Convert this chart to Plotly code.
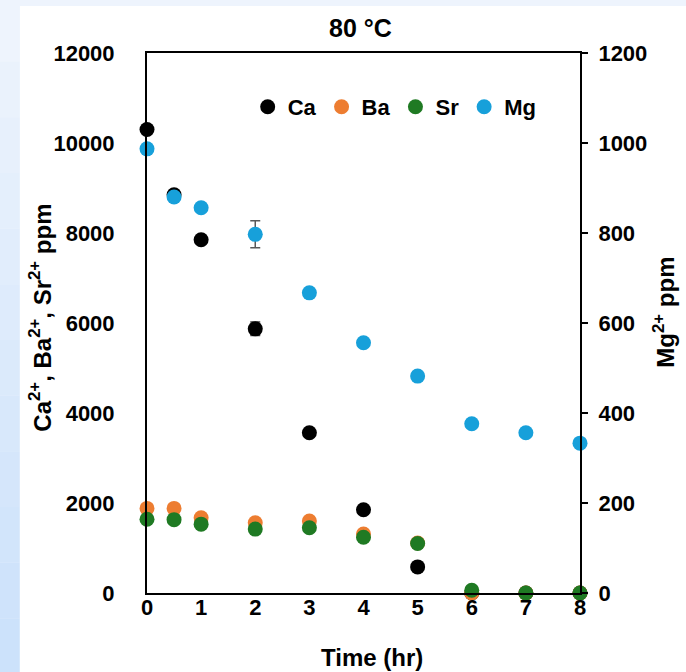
import plotly.graph_objects as go

# time points (hr)
time_hr = [0, 0.5, 1, 2, 3, 4, 5, 6, 7, 8]

# concentrations (ppm)
ca_ppm = [10300, 8850, 7850, 5870, 3560, 1850, 580, 0, 0, 0]
ba_ppm = [1880, 1880, 1670, 1560, 1600, 1310, 1110, 0, 0, 0]
sr_ppm = [1640, 1630, 1530, 1420, 1450, 1240, 1100, 60, 0, 0]
mg_ppm = [987, 880, 856, 797, 667, 556, 482, 376, 356, 333]

ca_err = [0, 60, 0, 150, 0, 0, 0, 0, 0, 0]
mg_err = [0, 0, 0, 30, 0, 0, 0, 0, 0, 0]

FONT = "Liberation Sans, Arial, sans-serif"
BOLD = dict(family=FONT, size=22, color="black", weight="bold")
BOLD_T = dict(family=FONT, size=24, color="black", weight="bold")

fig = go.Figure()

fig.add_trace(go.Scatter(
    x=time_hr, y=ca_ppm, mode="markers", name="Ca",
    marker=dict(color="black", size=15),
    error_y=dict(type="data", array=ca_err, color="#404040", thickness=1.5, width=5),
    cliponaxis=False,
))
fig.add_trace(go.Scatter(
    x=time_hr, y=ba_ppm, mode="markers", name="Ba",
    marker=dict(color="#ED7D31", size=15), cliponaxis=False,
))
fig.add_trace(go.Scatter(
    x=time_hr, y=sr_ppm, mode="markers", name="Sr",
    marker=dict(color="#1F7A23", size=15), cliponaxis=False,
))
fig.add_trace(go.Scatter(
    x=time_hr, y=mg_ppm, mode="markers", name="Mg", yaxis="y2",
    marker=dict(color="#17A0DA", size=15),
    error_y=dict(type="data", array=mg_err, color="#595959", thickness=1.5, width=5),
    cliponaxis=False,
))

# page background: white card over a pale blue frame
shapes = [dict(type="rect", xref="paper", yref="paper",
               x0=-0.294, x1=1.25, y0=-0.15, y1=1.087,
               fillcolor="white", line_width=0, layer="below")]
# left strip gets bluer towards the bottom
n = 12
for i in range(n):
    t = i / (n - 1)
    r = int(0xEE + (0xCC - 0xEE) * t)
    g = int(0xF4 + (0xE2 - 0xF4) * t)
    b = int(0xFD + (0xFB - 0xFD) * t)
    y1 = 1.087 - (1.087 + 0.15) * i / n
    y0 = 1.087 - (1.087 + 0.15) * (i + 1) / n
    shapes.append(dict(type="rect", xref="paper", yref="paper",
                       x0=-0.34, x1=-0.294, y0=y0, y1=y1,
                       fillcolor=f"rgb({r},{g},{b})", line_width=0, layer="below"))

annotations = [
    dict(text="80 °C", x=0.494, y=1.046, xref="paper", yref="paper",
         xanchor="center", yanchor="middle", showarrow=False,
         font=dict(family=FONT, size=25, color="black", weight="bold")),
    dict(text="Time (hr)", x=0.52, y=-0.12, xref="paper", yref="paper",
         xanchor="center", yanchor="middle", showarrow=False, font=BOLD_T),
    dict(text="Ca<sup>2+</sup>, Ba<sup>2+</sup>, Sr<sup>2+</sup> ppm",
         x=-0.247, y=0.51, xref="paper", yref="paper", textangle=-90,
         xanchor="center", yanchor="middle", showarrow=False, font=BOLD_T),
    dict(text="Mg<sup>2+</sup> ppm", x=1.195, y=0.52, xref="paper", yref="paper",
         textangle=-90, xanchor="center", yanchor="middle", showarrow=False, font=BOLD_T),
]

fig.update_layout(
    width=686, height=672,
    margin=dict(l=147, r=106, t=53, b=79),
    paper_bgcolor="#EEF4FD",
    plot_bgcolor="white",
    showlegend=True,
    legend=dict(orientation="h", x=0.572, y=0.9, xanchor="center", yanchor="middle",
                font=BOLD, bgcolor="rgba(0,0,0,0)", itemwidth=30, tracegroupgap=0),
    xaxis=dict(range=[0, 8], tickvals=list(range(9)), showgrid=False, zeroline=False,
               showline=True, linecolor="black", linewidth=2, mirror=True,
               ticks="", tickfont=BOLD, ticklabelstandoff=-6),
    yaxis=dict(range=[0, 12000], dtick=2000, tickformat="d", showgrid=False, zeroline=False,
               showline=True, linecolor="black", linewidth=2,
               ticks="", tickfont=BOLD, ticklabelstandoff=26),
    yaxis2=dict(range=[0, 1200], dtick=200, tickformat="d", overlaying="y", side="right",
                showgrid=False, zeroline=False, showline=True, linecolor="black",
                linewidth=2, ticks="outside", ticklen=6, tickwidth=2, tickcolor="black",
                tickfont=BOLD, ticklabelstandoff=6),
    shapes=shapes,
    annotations=annotations,
)

# drop the default 8px body margin so the figure fills the window
fig.write_html("out.html", config={"displayModeBar": False},
               post_script="document.body.style.margin='0';")
